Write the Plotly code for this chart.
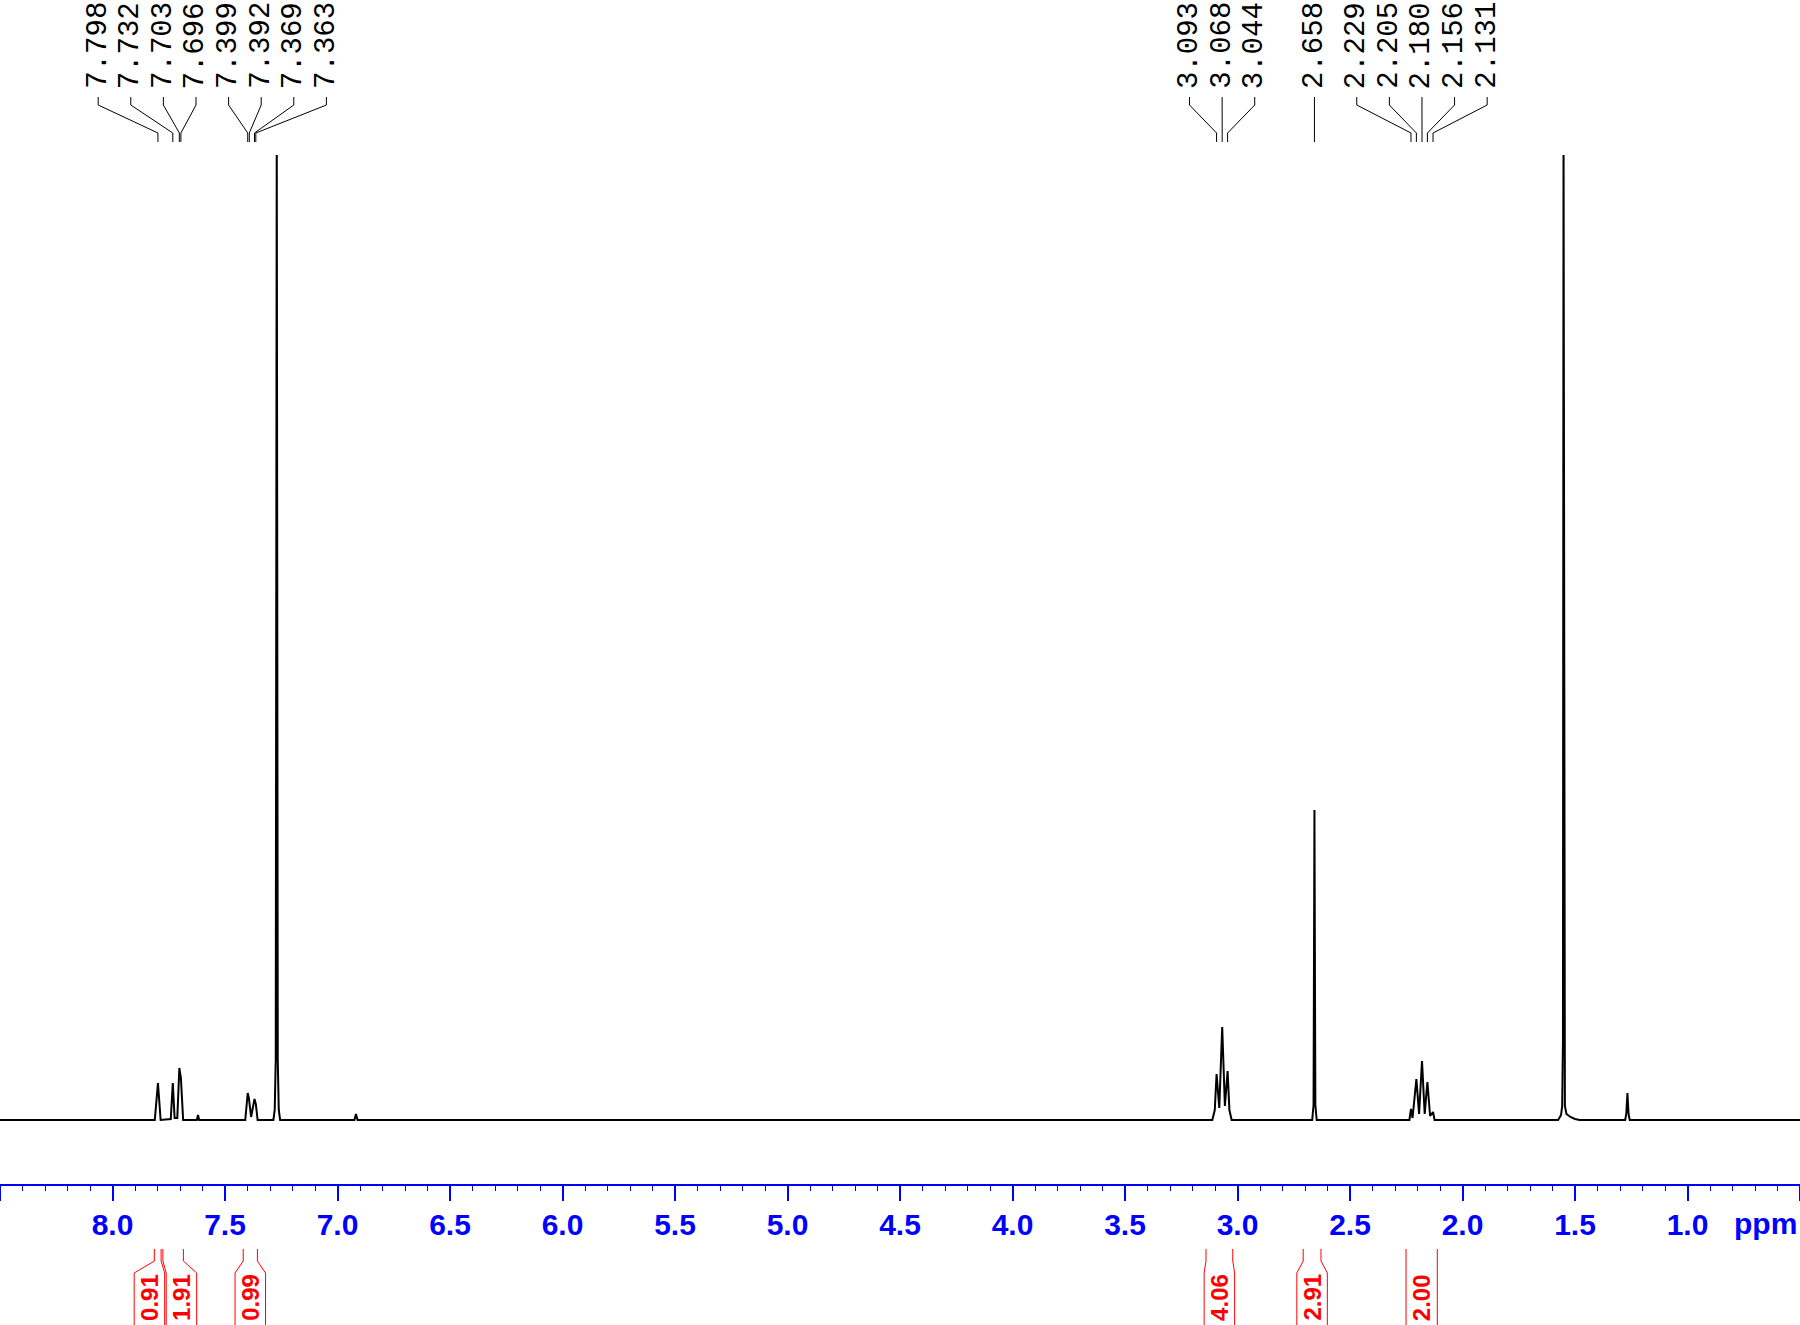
import plotly.graph_objects as go

# ── page geometry (pixels of the 1800 x 1325 page) ──────────────────────────
W, H = 1800, 1325
X_LEFT, X_RIGHT = 8.5, 0.5          # ppm at left / right page edge
PX_PER_PPM = W / (X_LEFT - X_RIGHT)
PLOT_TOP, AXIS_Y, BASE_Y = 155, 1184, 1120

_BLUE = '#0000ff'
_RED = '#ff0000'
_INK = '#000000'

# ── spectrum (ppm, height in px above baseline) ─────────────────────────────
spec_ppm = [8.500, 7.812, 7.798, 7.786, 7.741, 7.732, 7.724, 7.712, 7.703, 7.699, 7.696, 7.686,
            7.625, 7.620, 7.615, 7.410, 7.399, 7.394, 7.384, 7.369, 7.363, 7.355,
            7.285, 7.279, 7.2745, 7.270, 7.2655, 7.261, 7.255,
            6.925, 6.918, 6.911,
            3.112, 3.101, 3.093, 3.081, 3.068, 3.056, 3.044, 3.036, 3.026,
            2.668, 2.662, 2.658, 2.654, 2.648,
            2.236, 2.229, 2.222, 2.205, 2.193, 2.180, 2.168, 2.156, 2.144, 2.131, 2.124,
            1.575, 1.562, 1.557, 1.5535, 1.551, 1.5485, 1.545, 1.538, 1.520, 1.500, 1.480,
            1.277, 1.272, 1.267, 1.262, 1.257, 0.500]
spec_int = [0, 0, 37, 0, 1, 37, 2, 2, 52, 44, 42, 0,
            0, 5, 0, 0, 27, 22, 3, 21, 16, 0,
            0, 10, 60, 1000, 60, 10, 0,
            0, 6, 0,
            0, 10, 46, 12, 93, 14, 49, 10, 0,
            0, 15, 310, 15, 0,
            0, 11, 2, 41, 6, 59, 6, 38, 4, 8, 0,
            0, 5, 14, 80, 1000, 80, 14, 6, 3, 1, 0,
            0, 6, 27, 6, 0, 0]

# ── peak picking labels (top) ────────────────────────────────────────────────
peak_labels = [7.798, 7.732, 7.703, 7.696, 7.399, 7.392, 7.369, 7.363,
               3.093, 3.068, 3.044, 2.658, 2.229, 2.205, 2.180, 2.156, 2.131]
label_groups = [0, 0, 0, 0, 0, 0, 0, 0, 1, 1, 1, 2, 3, 3, 3, 3, 3]

# ── integrals (bottom) ──────────────────────────────────────────────────────
integral_text = ['0.91', '1.91', '0.99', '4.06', '2.91', '2.00']
integral_from = [7.814, 7.776, 7.419, 3.140, 2.708, 2.251]
integral_to = [7.784, 7.685, 7.356, 3.021, 2.629, 2.112]

# ── axis ticks ──────────────────────────────────────────────────────────────
tick_vals = [8.5, 8.0, 7.5, 7.0, 6.5, 6.0, 5.5, 5.0, 4.5, 4.0, 3.5, 3.0, 2.5, 2.0, 1.5, 1.0, 0.5]
tick_text = ['', '8.0', '7.5', '7.0', '6.5', '6.0', '5.5', '5.0', '4.5', '4.0',
             '3.5', '3.0', '2.5', '2.0', '1.5', '1.0', '']


def px2ppm(px):
    return X_LEFT - px / PX_PER_PPM


def ppm2px(ppm):
    return (X_LEFT - ppm) * PX_PER_PPM


def py(pix):
    """page pixel row -> paper y"""
    return 1 - pix / H


fig = go.Figure()
fig.add_trace(go.Scatter(
    x=spec_ppm, y=spec_int, mode='lines',
    line=dict(color=_INK, width=2),
    hoverinfo='skip', showlegend=False,
))

shapes, annotations = [], []

# peak labels spread out above their group, connected by kinked leaders
LABEL_STEP = 32.6
for g in sorted(set(label_groups)):
    members = [p for p, gg in zip(peak_labels, label_groups) if gg == g]
    centre = sum(ppm2px(p) for p in members) / len(members)
    for i, p in enumerate(members):
        lx = px2ppm(centre + (i - (len(members) - 1) / 2) * LABEL_STEP)
        annotations.append(dict(
            x=lx, xref='x', y=py(91), yref='paper',
            text=f'{p:.3f}', textangle=-90, showarrow=False,
            xanchor='center', yanchor='bottom',
            font=dict(family='Liberation Mono', size=29, color=_INK),
        ))
        shapes.append(dict(
            type='path', xref='x', yref='paper',
            path=f'M {lx},{py(97)} L {lx},{py(105)} L {p},{py(133)} L {p},{py(142)}',
            line=dict(color=_INK, width=1),
        ))

# integral brackets, widened to fit the value and pushed apart if they collide
BOX_MIN = 30.5
boxes = []
for a, b in zip(integral_from, integral_to):
    x1, x2 = ppm2px(a), ppm2px(b)
    half = max((x2 - x1) / 2, BOX_MIN / 2)
    c = (x1 + x2) / 2
    boxes.append([c - half, c + half])
for i in range(1, len(boxes)):
    overlap = boxes[i - 1][1] + 1.5 - boxes[i][0]
    if overlap > 0:
        for k in (0, 1):
            boxes[i - 1][k] -= overlap / 2
            boxes[i][k] += overlap / 2

for txt, a, b, (bl, br) in zip(integral_text, integral_from, integral_to, boxes):
    for top, bot in ((a, px2ppm(bl)), (b, px2ppm(br))):
        shapes.append(dict(
            type='path', xref='x', yref='paper',
            path=f'M {top},{py(1249)} L {top},{py(1261)} L {bot},{py(1273)} L {bot},{py(1330)}',
            line=dict(color=_RED, width=1),
        ))
    annotations.append(dict(
        x=px2ppm((bl + br) / 2), xref='x', y=py(1323), yref='paper',
        text=txt, textangle=-90, showarrow=False,
        xanchor='center', yanchor='bottom',
        font=dict(family='Liberation Sans', size=24, color=_RED, weight='bold'),
    ))

annotations.append(dict(
    x=1765 / W, xref='paper', y=py(1223), yref='paper',
    text='ppm', showarrow=False, xanchor='center', yanchor='middle',
    font=dict(family='Liberation Sans', size=30, color=_BLUE, weight='bold'),
))

fig.update_layout(
    width=W, height=H,
    margin=dict(l=0, r=0, t=0, b=0),
    paper_bgcolor='white', plot_bgcolor='white',
    shapes=shapes, annotations=annotations,
    xaxis=dict(
        range=[X_LEFT, X_RIGHT], domain=[0, 1],
        tickmode='array', tickvals=tick_vals, ticktext=tick_text,
        ticks='outside', ticklen=15, tickwidth=1.5, tickcolor=_BLUE,
        minor=dict(tickmode='linear', tick0=0, dtick=0.1, ticks='outside',
                   ticklen=5, tickwidth=1, tickcolor=_BLUE),
        showline=True, linecolor=_BLUE, linewidth=1.5,
        showgrid=False, zeroline=False,
        tickfont=dict(family='Liberation Sans', size=30, color=_BLUE, weight='bold'),
        ticklabelstandoff=-2,
    ),
    yaxis=dict(
        range=[-(AXIS_Y - BASE_Y), BASE_Y - PLOT_TOP],
        domain=[py(AXIS_Y), py(PLOT_TOP)],
        visible=False,
    ),
)

# the page body carries a default 8px margin; drop it so the figure fills the window
fig.write_html('out.html', config={'displayModeBar': False},
               post_script="document.body.style.margin='0';")
